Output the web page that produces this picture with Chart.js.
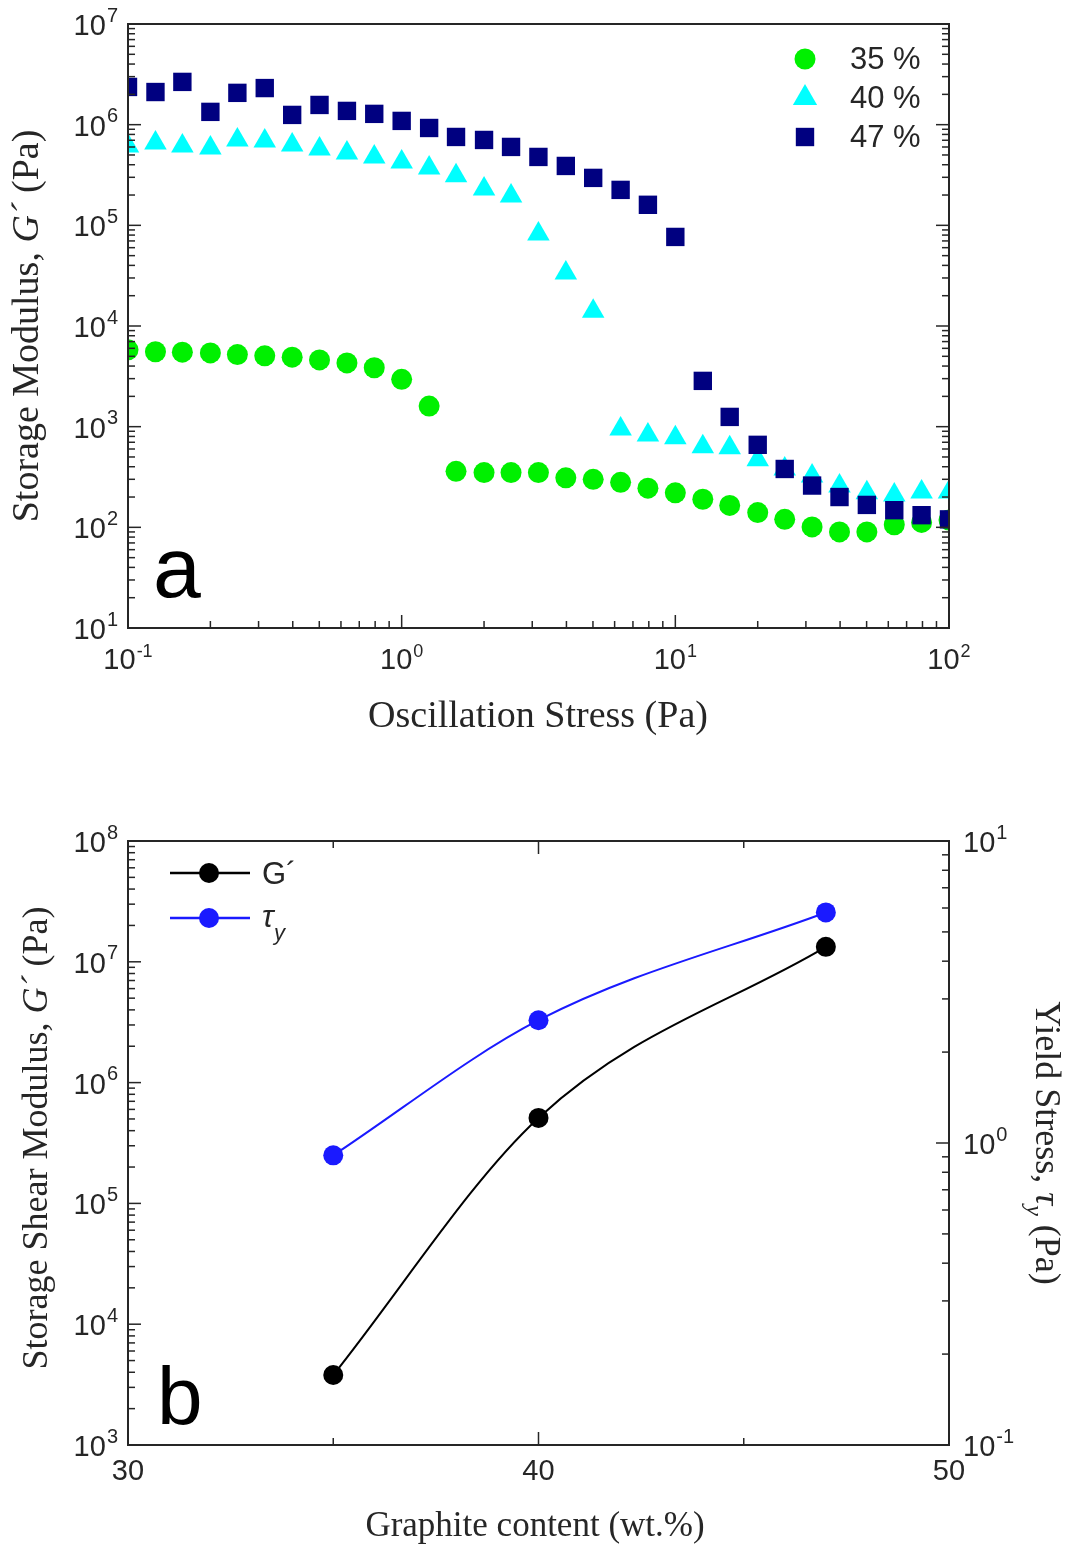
<!DOCTYPE html>
<html>
<head>
<meta charset="utf-8">
<script src="https://cdn.jsdelivr.net/npm/chart.js@4.4.1/dist/chart.umd.min.js"></script>
<style>
  body { margin: 0; background: #fff; }
  #wrapA { position: absolute; left: 0; top: 0; width: 1066px; height: 760px; }
  #wrapB { position: absolute; left: 0; top: 760px; width: 1066px; height: 791px; }
</style>
</head>
<body>
<div id="wrapA"><canvas id="chartA"></canvas></div>
<div id="wrapB"><canvas id="chartB"></canvas></div>
<script>
// ---- panel a: amplitude sweep ----
const stress = [0.1, 0.126, 0.158, 0.2, 0.251, 0.316, 0.398, 0.501, 0.631, 0.794, 1, 1.26, 1.58, 2, 2.51, 3.16,
  3.98, 5.01, 6.31, 7.94, 10, 12.6, 15.8, 20, 25.1, 31.6, 39.8, 50.1, 63.1, 79.4, 100];
const g35 = [5800, 5550, 5500, 5400, 5200, 5050, 4900, 4600, 4300, 3850, 2950, 1600, 360, 350, 350, 350,
  310, 300, 280, 245, 220, 190, 165, 140, 120, 101, 90, 90, 106, 112, 118];
const g40 = [615000, 658000, 615000, 588000, 705000, 689000, 629000, 574000, 524000, 478000, 426000, 371000,
  310000, 230000, 196000, 82000, 33700, 14000, 950, 828, 774, 630, 617, 468, 380, 323, 257, 220, 210, 225, 225];
const g47 = [2370000, 2110000, 2660000, 1340000, 2070000, 2310000, 1250000, 1570000, 1370000, 1280000, 1090000,
  927000, 755000, 705000, 601000, 478000, 389000, 296000, 225000, 160000, 76700, 2850, 1250, 660, 380, 260,
  200, 167, 148, 132, 120];
const seriesLabels = ['35 %', '40 %', '47 %'];
const stressTicks = [0.1, 1, 10, 100];
const modulusTicks = [10, 100, 1e3, 1e4, 1e5, 1e6, 1e7];

// ---- panel b: vs graphite content ----
const content = [35, 40, 47];
const shearModulus = [3800, 510000, 13300000];
const yieldStress = [0.91, 2.55, 5.8];
const contentTicks = [30, 40, 50];
const contentMinor = [35, 45];
const shearTicks = [1e3, 1e4, 1e5, 1e6, 1e7, 1e8];
const yieldTicks = [0.1, 1, 10];

const SANS = '"Liberation Sans", Arial, sans-serif';
const SERIF = '"Liberation Serif", "Times New Roman", serif';
const INK = '#262626';

function logSteps(min, max) {
  const out = [];
  for (let d = Math.round(Math.log10(min)); d < Math.round(Math.log10(max)); d++) {
    for (let m = 1; m <= 9; m++) out.push({ v: m * Math.pow(10, d), major: m === 1 });
  }
  out.push({ v: max, major: true });
  return out;
}

function line(ctx, x1, y1, x2, y2) {
  ctx.beginPath(); ctx.moveTo(x1, y1); ctx.lineTo(x2, y2); ctx.stroke();
}

// "10" with a raised exponent; sup = [font px, raise]
function powLabel(ctx, v, x, y, align, sup) {
  const e = String(Math.round(Math.log10(v)));
  ctx.font = '29px ' + SANS;
  const wb = ctx.measureText('10').width;
  ctx.font = sup[0] + 'px ' + SANS;
  const we = ctx.measureText(e).width;
  const w = wb + we + 1;
  const x0 = align === 'right' ? x - w : align === 'center' ? x - w / 2 : x;
  ctx.fillStyle = INK; ctx.textAlign = 'left'; ctx.textBaseline = 'middle';
  ctx.font = '29px ' + SANS; ctx.fillText('10', x0, y);
  ctx.font = sup[0] + 'px ' + SANS; ctx.fillText(e, x0 + wb + 1, y - sup[1]);
}

function richText(ctx, parts, x, y, rot) {
  ctx.save();
  ctx.translate(x, y); ctx.rotate(rot);
  let w = 0;
  parts.forEach(p => { ctx.font = p.font; p.w = ctx.measureText(p.text).width; w += p.w; });
  let cx = -w / 2;
  ctx.fillStyle = INK; ctx.textAlign = 'left'; ctx.textBaseline = 'middle';
  parts.forEach(p => { ctx.font = p.font; ctx.fillText(p.text, cx, p.dy || 0); cx += p.w; });
  ctx.restore();
}

const framePluginA = {
  id: 'frameA',
  afterDraw(chart) {
    const ctx = chart.ctx, a = chart.chartArea, x = chart.scales.x, y = chart.scales.y;
    ctx.save();
    ctx.strokeStyle = INK; ctx.lineWidth = 2;
    ctx.strokeRect(a.left, a.top, a.right - a.left, a.bottom - a.top);
    ctx.lineWidth = 1.5;
    logSteps(x.min, x.max).forEach(t => {
      const px = x.getPixelForValue(t.v), L = t.major ? 13 : 7;
      line(ctx, px, a.bottom, px, a.bottom - L);
    });
    logSteps(y.min, y.max).forEach(t => {
      const py = y.getPixelForValue(t.v), L = t.major ? 13 : 7;
      line(ctx, a.left, py, a.left + L, py);
      line(ctx, a.right, py, a.right - L, py);
    });
    stressTicks.forEach(v => powLabel(ctx, v, x.getPixelForValue(v), a.bottom + 33, 'center', [18, 9]));
    modulusTicks.forEach(v => powLabel(ctx, v, a.left - 10, y.getPixelForValue(v) + 3, 'right', [20, 11]));

    // legend
    const ds = chart.data.datasets;
    [0, 1, 2].forEach(i => {
      const d = ds.find(s => s.label === seriesLabels[i]);
      const ly = 59 + i * 39;
      ctx.fillStyle = d.pointBackgroundColor;
      Chart.helpers.drawPoint(ctx, { pointStyle: d.pointStyle, radius: d.legendRadius, rotation: 0, borderWidth: 0 }, 805, ly);
      ctx.fillStyle = INK; ctx.font = '31px ' + SANS; ctx.textAlign = 'left'; ctx.textBaseline = 'middle';
      ctx.fillText(seriesLabels[i], 850, ly + 1);
    });

    ctx.fillStyle = '#000'; ctx.font = '86px ' + SANS; ctx.textBaseline = 'alphabetic';
    ctx.fillText('a', 153, 597);

    richText(ctx, [
      { text: 'Storage Modulus, ', font: '38px ' + SERIF },
      { text: 'G´', font: 'italic 38px ' + SERIF },
      { text: ' (Pa)', font: '38px ' + SERIF }
    ], 28, 326, -Math.PI / 2);
    richText(ctx, [{ text: 'Oscillation Stress (Pa)', font: '38px ' + SERIF }], 538, 717, 0);
    ctx.restore();
  }
};

const framePluginB = {
  id: 'frameB',
  afterDraw(chart) {
    const ctx = chart.ctx, a = chart.chartArea, x = chart.scales.x, y = chart.scales.y, y2 = chart.scales.y2;
    ctx.save();
    ctx.strokeStyle = INK; ctx.lineWidth = 2;
    ctx.strokeRect(a.left, a.top, a.right - a.left, a.bottom - a.top);
    ctx.lineWidth = 1.5;
    contentTicks.concat(contentMinor).forEach(v => {
      const px = x.getPixelForValue(v), L = contentTicks.includes(v) ? 13 : 7;
      line(ctx, px, a.bottom, px, a.bottom - L);
      line(ctx, px, a.top, px, a.top + L);
    });
    logSteps(y.min, y.max).forEach(t => {
      const py = y.getPixelForValue(t.v), L = t.major ? 13 : 7;
      line(ctx, a.left, py, a.left + L, py);
    });
    logSteps(y2.min, y2.max).forEach(t => {
      const py = y2.getPixelForValue(t.v), L = t.major ? 13 : 7;
      line(ctx, a.right, py, a.right - L, py);
    });
    ctx.fillStyle = INK; ctx.font = '29px ' + SANS; ctx.textAlign = 'center'; ctx.textBaseline = 'middle';
    contentTicks.forEach(v => ctx.fillText(String(v), x.getPixelForValue(v), a.bottom + 27));
    shearTicks.forEach(v => powLabel(ctx, v, a.left - 10, y.getPixelForValue(v) + 3, 'right', [20, 11]));
    yieldTicks.forEach(v => powLabel(ctx, v, a.right + 14, y2.getPixelForValue(v) + 3, 'left', [20, 11]));

    // legend
    const ds = chart.data.datasets;
    ds.forEach((d, i) => {
      const ly = 113 + i * 45;
      ctx.strokeStyle = d.borderColor; ctx.lineWidth = 2.5;
      line(ctx, 170, ly, 250, ly);
      ctx.fillStyle = d.pointBackgroundColor;
      Chart.helpers.drawPoint(ctx, { pointStyle: 'circle', radius: 10, rotation: 0, borderWidth: 0 }, 209, ly);
    });
    ctx.fillStyle = INK; ctx.textAlign = 'left'; ctx.textBaseline = 'middle';
    ctx.font = '31px ' + SANS; ctx.fillText('G´', 262, 115);
    ctx.font = 'italic 31px ' + SANS; ctx.fillText('τ', 262, 158);
    ctx.font = 'italic 22px ' + SANS; ctx.fillText('y', 274, 174);

    ctx.fillStyle = '#000'; ctx.font = '82px ' + SANS; ctx.textBaseline = 'alphabetic';
    ctx.fillText('b', 157, 664);

    richText(ctx, [
      { text: 'Storage Shear Modulus, ', font: '36px ' + SERIF },
      { text: 'G´', font: 'italic 36px ' + SERIF },
      { text: ' (Pa)', font: '36px ' + SERIF }
    ], 38, 378, -Math.PI / 2);
    richText(ctx, [{ text: 'Graphite content (wt.%)', font: '35px ' + SERIF }], 535, 767, 0);
    richText(ctx, [
      { text: 'Yield Stress, ', font: '36px ' + SERIF },
      { text: 'τ', font: 'italic 36px ' + SERIF },
      { text: 'y', font: 'italic 24px ' + SERIF, dy: 12 },
      { text: ' (Pa)', font: '36px ' + SERIF }
    ], 1045, 383, Math.PI / 2);
    ctx.restore();
  }
};

function pts(xs, ys) { return xs.map((v, i) => ({ x: v, y: ys[i] })); }

const hidden = { ticks: { display: false }, grid: { display: false }, border: { display: false } };

new Chart(document.getElementById('chartA'), {
  type: 'scatter',
  data: {
    datasets: [
      { label: seriesLabels[0], data: pts(stress, g35), pointStyle: 'circle', pointRadius: 10.5, legendRadius: 10.5,
        pointBackgroundColor: '#00f000', pointBorderWidth: 0, showLine: false, clip: 0, order: 3 },
      { label: seriesLabels[1], data: pts(stress, g40), pointStyle: 'triangle', pointRadius: 13, legendRadius: 14,
        pointBackgroundColor: '#00ffff', pointBorderWidth: 0, showLine: false, clip: 0, order: 2 },
      { label: seriesLabels[2], data: pts(stress, g47), pointStyle: 'rect', pointRadius: 13, legendRadius: 13,
        pointBackgroundColor: '#000080', pointBorderWidth: 0, showLine: false, clip: 0, order: 1 }
    ]
  },
  options: {
    responsive: true, maintainAspectRatio: false, animation: false,
    layout: { padding: { left: 0, top: 24, right: 117, bottom: 0 } },
    plugins: { legend: { display: false }, tooltip: { enabled: false } },
    scales: {
      x: Object.assign({ type: 'logarithmic', min: 0.1, max: 100, afterFit: s => { s.height = 132; } }, hidden),
      y: Object.assign({ type: 'logarithmic', min: 10, max: 1e7, afterFit: s => { s.width = 128; } }, hidden)
    }
  },
  plugins: [framePluginA]
});

new Chart(document.getElementById('chartB'), {
  type: 'line',
  data: {
    datasets: [
      { label: "G´", data: pts(content, shearModulus), yAxisID: 'y', borderColor: '#000', borderWidth: 2,
        pointRadius: 10, pointBackgroundColor: '#000', pointBorderWidth: 0, cubicInterpolationMode: 'monotone', clip: 0 },
      { label: 'τy', data: pts(content, yieldStress), yAxisID: 'y2', borderColor: '#1a1aff', borderWidth: 2,
        pointRadius: 10, pointBackgroundColor: '#1a1aff', pointBorderWidth: 0, cubicInterpolationMode: 'monotone', clip: 0 }
    ]
  },
  options: {
    responsive: true, maintainAspectRatio: false, animation: false,
    layout: { padding: { left: 0, top: 81, right: 0, bottom: 0 } },
    plugins: { legend: { display: false }, tooltip: { enabled: false } },
    scales: {
      x: Object.assign({ type: 'linear', min: 30, max: 50, afterFit: s => { s.height = 106; } }, hidden),
      y: Object.assign({ type: 'logarithmic', position: 'left', min: 1e3, max: 1e8, afterFit: s => { s.width = 128; } }, hidden),
      y2: Object.assign({ type: 'logarithmic', position: 'right', min: 0.1, max: 10, afterFit: s => { s.width = 117; } }, hidden)
    }
  },
  plugins: [framePluginB]
});
</script>
</body>
</html>
